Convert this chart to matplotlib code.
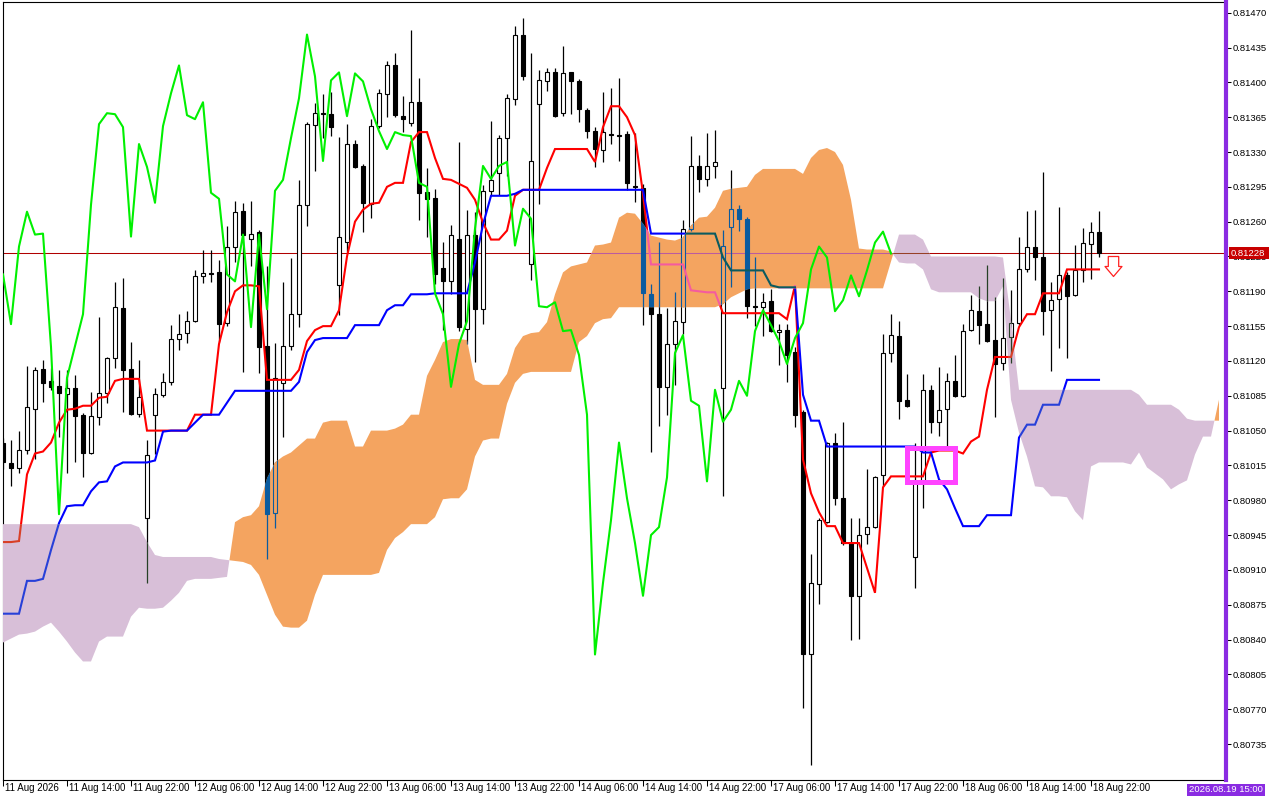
import numpy as np
import matplotlib
matplotlib.use('Agg')
import matplotlib.pyplot as plt
from matplotlib.path import Path
from matplotlib.patches import Rectangle
from matplotlib.colors import to_rgb
import matplotlib.transforms as mtransforms

plt.rcParams['font.family'] = ['Liberation Sans', 'DejaVu Sans']

# ---------------- data (H1 bars, bar 0 = 11 Aug 2026 06:00) ----------------
time_labels = ["11 Aug 2026", "11 Aug 14:00", "11 Aug 22:00", "12 Aug 06:00", "12 Aug 14:00",
               "12 Aug 22:00", "13 Aug 06:00", "13 Aug 14:00", "13 Aug 22:00", "14 Aug 06:00",
               "14 Aug 14:00", "14 Aug 22:00", "17 Aug 06:00", "17 Aug 14:00", "17 Aug 22:00",
               "18 Aug 06:00", "18 Aug 14:00", "18 Aug 22:00"]
price_ticks = [0.81470, 0.81435, 0.81400, 0.81365, 0.81330, 0.81295, 0.81260, 0.81225,
               0.81190, 0.81155, 0.81120, 0.81085, 0.81050, 0.81015, 0.80980, 0.80945,
               0.80910, 0.80875, 0.80840, 0.80805, 0.80770, 0.80735]

opens = [0.81038, 0.81017, 0.81012, 0.81031, 0.81072, 0.81112, 0.81100, 0.81095, 0.81087, 0.81093,
         0.81066, 0.81028, 0.81064, 0.81088, 0.81123, 0.81173, 0.81112, 0.81067, 0.80962, 0.81066,
         0.81086, 0.81099, 0.81142, 0.81148, 0.81160, 0.81205, 0.81208, 0.81209, 0.81158, 0.81235,
         0.81271, 0.81243, 0.81250, 0.81135, 0.80967, 0.81098, 0.81135, 0.81167, 0.81277, 0.81357,
         0.81369, 0.81368, 0.81196, 0.81240, 0.81338, 0.81316, 0.81278, 0.81356, 0.81388, 0.81417,
         0.81366, 0.81359, 0.81380, 0.81290, 0.81284, 0.81213, 0.81200, 0.81243, 0.81152, 0.81247,
         0.81172, 0.81291, 0.81309, 0.81344, 0.81383, 0.81448, 0.81217, 0.81378, 0.81401, 0.81410,
         0.81369, 0.81410, 0.81401, 0.81372, 0.81351, 0.81332, 0.81348, 0.81347, 0.81348, 0.81296,
         0.81294, 0.81187, 0.81167, 0.81094, 0.81137, 0.81159, 0.81253, 0.81316, 0.81303, 0.81316,
         0.81093, 0.81255, 0.81273, 0.81263, 0.81175, 0.81174, 0.81180, 0.81149, 0.81151, 0.81129,
         0.81069, 0.80825, 0.80896, 0.80958, 0.81038, 0.80982, 0.80937, 0.80884, 0.80946, 0.80953,
         0.81005, 0.81128, 0.81145, 0.81081, 0.80923, 0.80999, 0.81091, 0.81059, 0.81072, 0.81100,
         0.81085, 0.81151, 0.81170, 0.81157, 0.81141, 0.81118, 0.81144, 0.81158, 0.81212, 0.81235,
         0.81224, 0.81171, 0.81182, 0.81206, 0.81186, 0.81211, 0.81238, 0.81250]
highs = [0.81043, 0.81041, 0.81050, 0.81115, 0.81114, 0.81121, 0.81113, 0.81111, 0.81111, 0.81106,
         0.81068, 0.81089, 0.81164, 0.81124, 0.81199, 0.81203, 0.81139, 0.81121, 0.81041, 0.81093,
         0.81108, 0.81156, 0.81167, 0.81170, 0.81211, 0.81232, 0.81232, 0.81221, 0.81256, 0.81281,
         0.81279, 0.81281, 0.81252, 0.81215, 0.81138, 0.81199, 0.81223, 0.81302, 0.81360, 0.81379,
         0.81388, 0.81390, 0.81345, 0.81358, 0.81342, 0.81318, 0.81363, 0.81393, 0.81421, 0.81429,
         0.81386, 0.81453, 0.81404, 0.81314, 0.81293, 0.81240, 0.81257, 0.81340, 0.81272, 0.81270,
         0.81297, 0.81361, 0.81347, 0.81388, 0.81457, 0.81465, 0.81429, 0.81412, 0.81414, 0.81414,
         0.81437, 0.81410, 0.81403, 0.81374, 0.81355, 0.81390, 0.81394, 0.81404, 0.81351, 0.81349,
         0.81298, 0.81197, 0.81240, 0.81173, 0.81189, 0.81262, 0.81346, 0.81327, 0.81349, 0.81352,
         0.81252, 0.81312, 0.81277, 0.81265, 0.81224, 0.81188, 0.81192, 0.81157, 0.81157, 0.81134,
         0.81071, 0.80926, 0.80962, 0.81039, 0.81048, 0.81059, 0.80962, 0.80962, 0.81011, 0.81004,
         0.81147, 0.81167, 0.81160, 0.81107, 0.81038, 0.81107, 0.81096, 0.81114, 0.81108, 0.81126,
         0.81157, 0.81186, 0.81195, 0.81216, 0.81184, 0.81203, 0.81191, 0.81245, 0.81271, 0.81272,
         0.81310, 0.81199, 0.81275, 0.81209, 0.81237, 0.81254, 0.81260, 0.81271]
lows = [0.81011, 0.80994, 0.81007, 0.81026, 0.81021, 0.81079, 0.81091, 0.81044, 0.81007, 0.81018,
        0.81003, 0.81026, 0.81056, 0.81078, 0.81113, 0.81069, 0.81066, 0.81064, 0.80897, 0.81026,
        0.81084, 0.81096, 0.81131, 0.81138, 0.81159, 0.81198, 0.81199, 0.81139, 0.81155, 0.81219,
        0.81109, 0.81215, 0.81108, 0.80921, 0.80952, 0.81044, 0.81131, 0.81154, 0.81256, 0.81311,
        0.81344, 0.81346, 0.81166, 0.81229, 0.81314, 0.81250, 0.81264, 0.81354, 0.81365, 0.81365,
        0.81350, 0.81356, 0.81262, 0.81245, 0.81197, 0.81151, 0.81187, 0.81150, 0.81137, 0.81119,
        0.81157, 0.81287, 0.81287, 0.81306, 0.81377, 0.81402, 0.81201, 0.81278, 0.81391, 0.81365,
        0.81366, 0.81368, 0.81360, 0.81344, 0.81315, 0.81320, 0.81338, 0.81321, 0.81292, 0.81280,
        0.81156, 0.81029, 0.81055, 0.81066, 0.81096, 0.81147, 0.81251, 0.81290, 0.81296, 0.81304,
        0.80984, 0.81194, 0.81251, 0.81163, 0.81155, 0.81145, 0.81149, 0.81116, 0.81099, 0.81054,
        0.80771, 0.80714, 0.80876, 0.80957, 0.80975, 0.80935, 0.80840, 0.80841, 0.80936, 0.80952,
        0.80994, 0.81119, 0.81062, 0.81074, 0.80892, 0.80972, 0.81048, 0.81045, 0.81034, 0.81084,
        0.81084, 0.81150, 0.81137, 0.81139, 0.81064, 0.81111, 0.81118, 0.81156, 0.81209, 0.81201,
        0.81146, 0.81110, 0.81133, 0.81123, 0.81185, 0.81199, 0.81202, 0.81224]
closes = [0.81018, 0.81012, 0.81031, 0.81074, 0.81111, 0.81098, 0.81094, 0.81088, 0.81093, 0.81065,
          0.81027, 0.81065, 0.81088, 0.81123, 0.81174, 0.81111, 0.81067, 0.81084, 0.81025, 0.81087,
          0.81099, 0.81142, 0.81147, 0.81160, 0.81205, 0.81208, 0.81207, 0.81157, 0.81235, 0.81270,
          0.81247, 0.81248, 0.81134, 0.80966, 0.81103, 0.81135, 0.81167, 0.81277, 0.81358, 0.81369,
          0.81368, 0.81355, 0.81245, 0.81338, 0.81315, 0.81279, 0.81356, 0.81389, 0.81417, 0.81367,
          0.81363, 0.81380, 0.81289, 0.81283, 0.81207, 0.81200, 0.81247, 0.81154, 0.81247, 0.81172,
          0.81291, 0.81302, 0.81344, 0.81384, 0.81448, 0.81406, 0.81321, 0.81402, 0.81410, 0.81366,
          0.81409, 0.81401, 0.81373, 0.81351, 0.81333, 0.81350, 0.81347, 0.81346, 0.81299, 0.81295,
          0.81188, 0.81167, 0.81094, 0.81137, 0.81160, 0.81253, 0.81316, 0.81303, 0.81316, 0.81320,
          0.81236, 0.81273, 0.81263, 0.81175, 0.81174, 0.81179, 0.81150, 0.81151, 0.81126, 0.81066,
          0.80825, 0.80897, 0.80960, 0.81038, 0.80982, 0.80937, 0.80884, 0.80945, 0.80953, 0.81003,
          0.81128, 0.81146, 0.81080, 0.81075, 0.80999, 0.81091, 0.81059, 0.81071, 0.81100, 0.81085,
          0.81150, 0.81171, 0.81156, 0.81140, 0.81117, 0.81143, 0.81158, 0.81212, 0.81235, 0.81224,
          0.81170, 0.81181, 0.81206, 0.81185, 0.81211, 0.81239, 0.81250, 0.81228]
tenkan = [0.80938, 0.80938, 0.80939, 0.81006, 0.81027, 0.81029, 0.81038, 0.81058, 0.81071, 0.81072,
          0.81075, 0.81075, 0.81083, 0.81084, 0.81100, 0.81102, 0.81102, 0.81102, 0.81050, 0.81050,
          0.81050, 0.81050, 0.81050, 0.81050, 0.81066, 0.81066, 0.81066, 0.81137, 0.81169, 0.81190,
          0.81196, 0.81196, 0.81195, 0.81101, 0.81101, 0.81101, 0.81101, 0.81111, 0.81140, 0.81151,
          0.81155, 0.81155, 0.81171, 0.81225, 0.81260, 0.81272, 0.81278, 0.81279, 0.81295, 0.81299,
          0.81299, 0.81340, 0.81350, 0.81350, 0.81324, 0.81303, 0.81302, 0.81298, 0.81294, 0.81282,
          0.81259, 0.81242, 0.81242, 0.81251, 0.81286, 0.81292, 0.81292, 0.81292, 0.81314, 0.81333,
          0.81333, 0.81333, 0.81333, 0.81333, 0.81320, 0.81355, 0.81376, 0.81376, 0.81365, 0.81347,
          0.81288, 0.81217, 0.81217, 0.81217, 0.81217, 0.81217, 0.81191, 0.81190, 0.81189, 0.81189,
          0.81168, 0.81168, 0.81168, 0.81168, 0.81168, 0.81168, 0.81168, 0.81168, 0.81162, 0.81196,
          0.81021, 0.80987, 0.80968, 0.80954, 0.80954, 0.80937, 0.80937, 0.80937, 0.80912, 0.80887,
          0.80993, 0.81004, 0.81004, 0.81004, 0.81004, 0.81004, 0.81028, 0.81030, 0.81030, 0.81030,
          0.81027, 0.81039, 0.81044, 0.81091, 0.81124, 0.81124, 0.81124, 0.81154, 0.81167, 0.81167,
          0.81188, 0.81188, 0.81188, 0.81212, 0.81212, 0.81212, 0.81212, 0.81212]
kijun = [0.80866, 0.80866, 0.80866, 0.80899, 0.80899, 0.80901, 0.80930, 0.80957, 0.80974, 0.80975,
         0.80975, 0.80989, 0.80998, 0.80999, 0.81014, 0.81018, 0.81018, 0.81018, 0.81018, 0.81020,
         0.81049, 0.81050, 0.81050, 0.81050, 0.81058, 0.81066, 0.81066, 0.81066, 0.81078, 0.81090,
         0.81090, 0.81090, 0.81090, 0.81090, 0.81090, 0.81090, 0.81090, 0.81099, 0.81129, 0.81141,
         0.81143, 0.81143, 0.81143, 0.81143, 0.81156, 0.81156, 0.81156, 0.81156, 0.81171, 0.81176,
         0.81176, 0.81187, 0.81187, 0.81187, 0.81188, 0.81188, 0.81188, 0.81188, 0.81188, 0.81219,
         0.81257, 0.81286, 0.81286, 0.81286, 0.81288, 0.81292, 0.81292, 0.81292, 0.81292, 0.81292,
         0.81292, 0.81292, 0.81292, 0.81292, 0.81292, 0.81292, 0.81292, 0.81292, 0.81292, 0.81292,
         0.81292, 0.81248, 0.81248, 0.81248, 0.81248, 0.81248, 0.81248, 0.81248, 0.81248, 0.81248,
         0.81224, 0.81211, 0.81211, 0.81211, 0.81211, 0.81211, 0.81196, 0.81194, 0.81194, 0.81194,
         0.81086, 0.81060, 0.81060, 0.81034, 0.81034, 0.81034, 0.81034, 0.81034, 0.81034, 0.81034,
         0.81034, 0.81034, 0.81034, 0.81034, 0.81034, 0.81028, 0.81028, 0.81001, 0.80991, 0.80972,
         0.80954, 0.80954, 0.80954, 0.80965, 0.80965, 0.80965, 0.80965, 0.81043, 0.81056, 0.81056,
         0.81076, 0.81076, 0.81076, 0.81101, 0.81101, 0.81101, 0.81101, 0.81101]
span_a = [0.80837, 0.80841, 0.80845, 0.80846, 0.80848, 0.80853, 0.80857, 0.80848, 0.80838, 0.80827,
          0.80818, 0.80818, 0.80838, 0.80843, 0.80843, 0.80843, 0.80863, 0.80872, 0.80871, 0.80871,
          0.80872, 0.80879, 0.80887, 0.80899, 0.80901, 0.80901, 0.80901, 0.80902, 0.80903, 0.80958,
          0.80963, 0.80965, 0.80974, 0.81002, 0.81018, 0.81024, 0.81028, 0.81035, 0.81042, 0.81042,
          0.81058, 0.81060, 0.81060, 0.81060, 0.81034, 0.81034, 0.81050, 0.81050, 0.81050, 0.81052,
          0.81056, 0.81066, 0.81066, 0.81105, 0.81121, 0.81139, 0.81142, 0.81142, 0.81141, 0.81101,
          0.81096, 0.81096, 0.81096, 0.81107, 0.81133, 0.81145, 0.81148, 0.81149, 0.81159, 0.81187,
          0.81209, 0.81215, 0.81217, 0.81219, 0.81236, 0.81237, 0.81239, 0.81264, 0.81269, 0.81268,
          0.81258, 0.81246, 0.81244, 0.81242, 0.81241, 0.81244, 0.81256, 0.81264, 0.81265, 0.81274,
          0.81291, 0.81293, 0.81294, 0.81295, 0.81307, 0.81313, 0.81313, 0.81313, 0.81313, 0.81313,
          0.81308, 0.81324, 0.81332, 0.81334, 0.81330, 0.81317, 0.81282, 0.81233, 0.81232, 0.81232,
          0.81232, 0.81230, 0.81219, 0.81218, 0.81218, 0.81212, 0.81192, 0.81189, 0.81189, 0.81189,
          0.81189, 0.81189, 0.81183, 0.81180, 0.81180, 0.81195, 0.81081, 0.81048, 0.81024, 0.80994,
          0.80993, 0.80984, 0.80984, 0.80983, 0.80969, 0.80960, 0.81014, 0.81018, 0.81018, 0.81018,
          0.81018, 0.81016, 0.81028, 0.81013, 0.81007, 0.81001, 0.80991, 0.80996, 0.81000, 0.81026,
          0.81044, 0.81044, 0.81081]
span_b = [0.80956, 0.80956, 0.80956, 0.80956, 0.80956, 0.80956, 0.80956, 0.80956, 0.80956, 0.80956,
          0.80956, 0.80956, 0.80956, 0.80956, 0.80956, 0.80956, 0.80956, 0.80953, 0.80938, 0.80925,
          0.80923, 0.80923, 0.80923, 0.80923, 0.80923, 0.80923, 0.80923, 0.80921, 0.80920, 0.80919,
          0.80918, 0.80915, 0.80905, 0.80885, 0.80865, 0.80853, 0.80852, 0.80852, 0.80859, 0.80885,
          0.80905, 0.80905, 0.80905, 0.80905, 0.80905, 0.80905, 0.80905, 0.80907, 0.80930, 0.80942,
          0.80948, 0.80956, 0.80956, 0.80956, 0.80963, 0.80981, 0.80982, 0.80982, 0.80991, 0.81024,
          0.81040, 0.81042, 0.81042, 0.81077, 0.81098, 0.81107, 0.81109, 0.81109, 0.81109, 0.81109,
          0.81109, 0.81109, 0.81139, 0.81145, 0.81158, 0.81162, 0.81163, 0.81174, 0.81174, 0.81174,
          0.81174, 0.81174, 0.81174, 0.81174, 0.81174, 0.81174, 0.81174, 0.81174, 0.81174, 0.81174,
          0.81177, 0.81184, 0.81188, 0.81192, 0.81193, 0.81193, 0.81193, 0.81193, 0.81193, 0.81193,
          0.81193, 0.81193, 0.81193, 0.81193, 0.81193, 0.81193, 0.81193, 0.81193, 0.81193, 0.81193,
          0.81193, 0.81220, 0.81247, 0.81247, 0.81247, 0.81242, 0.81225, 0.81225, 0.81225, 0.81225,
          0.81225, 0.81225, 0.81225, 0.81225, 0.81225, 0.81224, 0.81161, 0.81091, 0.81091, 0.81091,
          0.81091, 0.81091, 0.81091, 0.81091, 0.81091, 0.81091, 0.81091, 0.81091, 0.81091, 0.81091,
          0.81091, 0.81091, 0.81086, 0.81076, 0.81076, 0.81076, 0.81076, 0.81071, 0.81062, 0.81060,
          0.81060, 0.81060, 0.81060]
chikou_shift = 26
vline_label = "2026.08.19 15:00"

# ---------------- styles ----------------
BULL_FACE, CANDLE_EDGE, BEAR_FACE = '#FFFFFF', '#000000', '#000000'
TENKAN_C, KIJUN_C, CHIKOU_C = '#FF0000', '#0000FF', '#00F000'
CLOUD_UP, CLOUD_DN = '#F4A460', '#D8BFD8'
PRICE_C = '#B00000'
VLINE_C = '#8A2BE2'

W, H = 1280, 800
fig = plt.figure(figsize=(12.8, 8), dpi=100)
fig.patch.set_facecolor('white')
ax_l, ax_r, ax_t, ax_b = 2.5, 1226, 2, 779.5
ax = fig.add_axes([ax_l / W, 1 - ax_b / H, (ax_r - ax_l) / W, (ax_b - ax_t) / H])
ax.set_xlim(-0.0625, 152.875)
ax.set_ylim(0.8069937, 0.8148075)
ax.set_facecolor('white')

o = np.array(opens); h = np.array(highs); l = np.array(lows); c = np.array(closes)
xb = np.arange(len(o))
A = np.array(span_a); B = np.array(span_b); xc = np.arange(len(A))
bull = c >= o


def xor_map(k):
    def f(col):
        r, g, b = [int(round(v * 255)) for v in to_rgb(col)]
        return ((r ^ k[0]) / 255, (g ^ k[1]) / 255, (b ^ k[2]) / 255)
    return f


ident = lambda col: col


def draw_layer(cmap, z, clip=None):
    arts = []
    arts.append(ax.axhline(c[-1], color=cmap(PRICE_C), lw=0.75, zorder=z + 0.05))
    arts.append(ax.vlines(xb, l, h, colors=[cmap(CANDLE_EDGE)], lw=0.9, zorder=z + 0.1))
    bw = 0.56
    bars1 = ax.bar(xb[bull], np.maximum(c[bull] - o[bull], 1e-7), bottom=o[bull], width=bw,
                   color=cmap(BULL_FACE), edgecolor=cmap(CANDLE_EDGE), lw=0.8, zorder=z + 0.2)
    bars2 = ax.bar(xb[~bull], np.maximum(o[~bull] - c[~bull], 1e-7), bottom=c[~bull], width=bw,
                   color=cmap(BEAR_FACE), edgecolor=cmap(CANDLE_EDGE), lw=0.8, zorder=z + 0.2)
    arts += list(bars1.patches) + list(bars2.patches)
    arts += ax.plot(xb, tenkan, color=cmap(TENKAN_C), lw=1.5, zorder=z + 0.3,
                    solid_joinstyle='miter')
    arts += ax.plot(xb, kijun, color=cmap(KIJUN_C), lw=1.5, zorder=z + 0.35,
                    solid_joinstyle='miter')
    if clip is not None:
        for a in arts:
            a.set_clip_path(clip, ax.transData)


# normal layer
draw_layer(ident, 2)

# cloud
up = ax.fill_between(xc, A, B, where=A >= B, interpolate=True, color=CLOUD_UP, lw=0, zorder=5)
dn = ax.fill_between(xc, A, B, where=B > A, interpolate=True, color=CLOUD_DN, lw=0, zorder=5)
up_path = Path.make_compound_path(*up.get_paths())
dn_path = Path.make_compound_path(*dn.get_paths())

k_up = tuple(255 - int(round(v * 255)) for v in to_rgb(CLOUD_UP))
k_dn = tuple(255 - int(round(v * 255)) for v in to_rgb(CLOUD_DN))
draw_layer(xor_map(k_up), 6, up_path)
draw_layer(xor_map(k_dn), 6, dn_path)

# chikou span (closes shifted back)
ax.plot(xb[:len(c) - chikou_shift], c[chikou_shift:], color=CHIKOU_C, lw=1.5, zorder=10)

# magenta box annotation
ax.add_patch(Rectangle((113.06, 0.80998), 118.94 - 113.06, 0.81033 - 0.80998, fill=False,
                       edgecolor='#FF44FF', lw=3.6, zorder=11, joinstyle='miter'))

# sell arrow
arrow = Path([(-0.26, 0.5), (0.26, 0.5), (0.26, 0.0), (0.425, 0.0), (0.0, -0.5),
              (-0.425, 0.0), (-0.26, 0.0), (-0.26, 0.5)],
             [Path.MOVETO] + [Path.LINETO] * 6 + [Path.CLOSEPOLY])
ax.plot([138.8], [0.81215], marker=arrow, markersize=14.4, markerfacecolor='white',
        markeredgecolor='#FF2020', markeredgewidth=0.9, linestyle='none', zorder=12, clip_on=False)

# frame
for s in ['left', 'top', 'bottom']:
    ax.spines[s].set_color('black')
    ax.spines[s].set_linewidth(0.8)
ax.spines['right'].set_visible(False)
ax.axvline(152.875, color=VLINE_C, lw=3.0, zorder=20, clip_on=False)

# axes ticks
ax.yaxis.tick_right()
ax.set_yticks(price_ticks)
ax.set_yticklabels(['%.5f' % p for p in price_ticks])
ax.tick_params(axis='y', right=True, left=False, length=3.6, width=0.75, pad=1.2,
               labelsize=6.8, colors='black', direction='out')
ax.set_xticks(np.arange(0, 8 * len(time_labels), 8))
ax.set_xticklabels(time_labels, ha='left')
ax.tick_params(axis='x', length=4.3, width=0.75, pad=-2.0, labelsize=7, direction='out')
off = mtransforms.ScaledTranslation(1.6 / 72, 0, fig.dpi_scale_trans)
for lab in ax.get_xticklabels():
    lab.set_transform(lab.get_transform() + off)

# price label on the right
py = 1 - (ax_t + (0.8148075 - c[-1]) / (0.8148075 - 0.8069937) * (ax_b - ax_t)) / H
fig.patches.append(Rectangle((1229 / W, py - 6 / H), 40 / W, 12 / H, transform=fig.transFigure,
                             facecolor='#C80000', edgecolor='none', zorder=30))
fig.text(1231 / W, py, '%.5f' % c[-1], color='white', fontsize=6.8, va='center', ha='left',
         zorder=31)

# vertical line time label
fig.patches.append(Rectangle((1187 / W, 1 - 796 / H), 78 / W, 12 / H, transform=fig.transFigure,
                             facecolor=VLINE_C, edgecolor='none', zorder=30))
fig.text(1226 / W, 1 - 790 / H, vline_label, color='white', fontsize=6.8, va='center',
         ha='center', zorder=31)

fig.savefig('out.png', dpi=100, facecolor='white')
